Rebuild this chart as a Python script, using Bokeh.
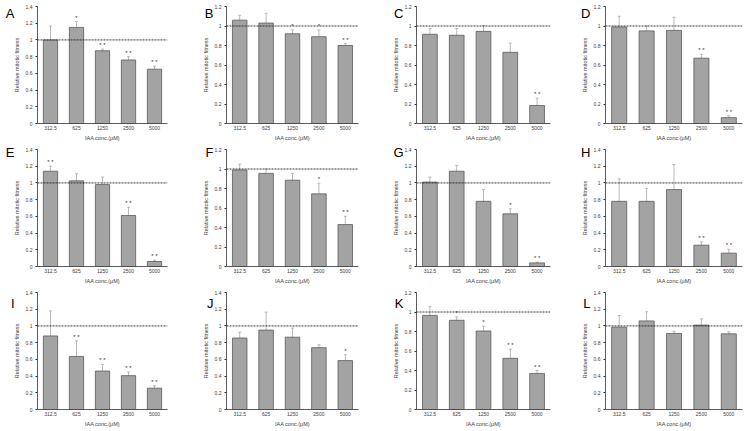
from bokeh.plotting import figure
from bokeh.models import (FactorRange, Range1d, Span, Whisker, TeeHead,
                          ColumnDataSource, LinearAxis, FixedTicker)
from bokeh.layouts import column, row
from bokeh.core.properties import value
from bokeh.embed import file_html
from bokeh.resources import INLINE

conc = ["312.5", "625", "1250", "2500", "5000"]
x_title = "IAA conc.(μM)"
y_title = "Relative mitotic fitness"

A_mean = [1.00, 1.15, 0.87, 0.76, 0.65]
A_err = [0.165, 0.07, 0.02, 0.04, 0.035]
A_sig = ["", "*", "* *", "* *", "* *"]

B_mean = [1.06, 1.03, 0.92, 0.89, 0.80]
B_err = [0.05, 0.10, 0.04, 0.07, 0.02]
B_sig = ["", "", "*", "*", "* *"]

C_mean = [0.915, 0.905, 0.945, 0.73, 0.185]
C_err = [0.06, 0.07, 0.06, 0.095, 0.075]
C_sig = ["", "", "", "", "* *"]

D_mean = [0.99, 0.95, 0.955, 0.67, 0.06]
D_err = [0.11, 0.05, 0.135, 0.04, 0.02]
D_sig = ["", "", "", "* *", "* *"]

E_mean = [1.14, 1.025, 0.98, 0.61, 0.06]
E_err = [0.06, 0.085, 0.09, 0.10, 0.015]
E_sig = ["* *", "", "", "* *", "* *"]

F_mean = [0.99, 0.955, 0.885, 0.745, 0.43]
F_err = [0.06, 0.045, 0.07, 0.11, 0.085]
F_sig = ["", "", "", "*", "* *"]

G_mean = [1.01, 1.14, 0.78, 0.63, 0.043]
G_err = [0.06, 0.07, 0.14, 0.06, 0.008]
G_sig = ["", "", "", "*", "* *"]

H_mean = [0.78, 0.78, 0.92, 0.255, 0.16]
H_err = [0.27, 0.155, 0.30, 0.04, 0.045]
H_sig = ["", "", "", "* *", "* *"]

I_mean = [0.88, 0.635, 0.46, 0.405, 0.255]
I_err = [0.30, 0.185, 0.08, 0.045, 0.03]
I_sig = ["", "* *", "* *", "* *", "* *"]

J_mean = [0.855, 0.95, 0.865, 0.74, 0.585]
J_err = [0.07, 0.215, 0.11, 0.035, 0.07]
J_sig = ["", "", "", "", "*"]

K_mean = [0.965, 0.915, 0.805, 0.525, 0.37]
K_err = [0.09, 0.035, 0.05, 0.095, 0.03]
K_sig = ["", "*", "*", "* *", "* *"]

L_mean = [0.985, 1.06, 0.91, 1.01, 0.905]
L_err = [0.14, 0.11, 0.025, 0.075, 0.025]
L_sig = ["", "", "", "", ""]

y_max = {"A": 1.4, "B": 1.2, "C": 1.2, "D": 1.2,
         "E": 1.4, "F": 1.2, "G": 1.4, "H": 1.4,
         "I": 1.4, "J": 1.4, "K": 1.2, "L": 1.4}

panels = [
    [("A", A_mean, A_err, A_sig), ("B", B_mean, B_err, B_sig),
     ("C", C_mean, C_err, C_sig), ("D", D_mean, D_err, D_sig)],
    [("E", E_mean, E_err, E_sig), ("F", F_mean, F_err, F_sig),
     ("G", G_mean, G_err, G_sig), ("H", H_mean, H_err, H_sig)],
    [("I", I_mean, I_err, I_sig), ("J", J_mean, J_err, J_sig),
     ("K", K_mean, K_err, K_sig), ("L", L_mean, L_err, L_sig)],
]

# layout (pixels)
COL_W = [188, 187, 185, 184]
COL_L = [37, 38, 41, 45]
PLOT_W = [130, 132, 134, 137]
ROW_H = [143, 143, 143]
TOP_B = 6
BOT_B = 17
LETTER_STANDOFF = [-4, -14, -14, -12]  # horizontal placement of the panel letter
LETTER_DY = [7.5, 3.0, 11.0]           # letter centre below the plot top (px)

FONT = "Liberation Sans"
BAR_FILL = "#a3a3a3"
BAR_LINE = "#5a5a5a"
ERR_COL = "#a8a8a8"


def make_panel(letter, mean, err, sig, ci, ri):
    ymax = y_max[letter]
    w = COL_W[ci]
    lb = COL_L[ci]
    rb = max(w - lb - PLOT_W[ci], 0)
    p = figure(x_range=FactorRange(factors=conc), y_range=Range1d(0, ymax),
               width=w, height=ROW_H[ri], output_backend="svg",
               toolbar_location=None, min_border_left=lb, min_border_right=rb,
               min_border_top=TOP_B, min_border_bottom=BOT_B)
    p.outline_line_color = None
    p.xgrid.visible = False
    p.ygrid.visible = False

    upper = [m + e for m, e in zip(mean, err)]
    lower = [m - e for m, e in zip(mean, err)]
    src = ColumnDataSource(dict(x=conc, top=mean, upper=upper, lower=lower, sig=sig))

    p.vbar(x="x", top="top", width=0.55, source=src, fill_color=BAR_FILL,
           line_color=BAR_LINE, line_width=0.8)
    wh = Whisker(source=src, base="x", upper="upper", lower="lower",
                 line_color=ERR_COL, line_width=0.8,
                 upper_head=TeeHead(size=3, line_color=ERR_COL, line_width=0.8),
                 lower_head=TeeHead(size=3, line_color=ERR_COL, line_width=0.8))
    p.add_layout(wh)
    p.add_layout(Span(location=1, dimension="width", line_color="#222222",
                      line_width=0.9, line_dash="2 1"))
    p.text(x="x", y="upper", text="sig", source=src, text_font=value(FONT),
           text_font_size="6px", text_color="#333333", text_align="center",
           text_baseline="bottom", y_offset=-1)

    # axes
    ticks = [round(0.2 * i, 1) for i in range(int(round(ymax / 0.2)) + 1)]
    p.yaxis.ticker = FixedTicker(ticks=ticks)
    p.yaxis.major_label_overrides = {t: ("%g" % t) for t in ticks}
    for ax in (p.xaxis, p.yaxis):
        ax.axis_line_color = "#333333"
        ax.axis_line_width = 0.8
        ax.major_label_text_font = FONT
        ax.major_label_text_font_size = "5px"
        ax.major_label_text_color = "#404040"
        ax.axis_label_text_font = FONT
        ax.axis_label_text_font_size = "5.5px"
        ax.axis_label_text_font_style = "normal"
        ax.axis_label_text_color = "#404040"
        ax.minor_tick_line_color = None
        ax.major_label_standoff = 3
        ax.axis_label_standoff = 3
    p.yaxis.major_tick_line_color = "#333333"
    p.yaxis.major_tick_out = 2
    p.yaxis.major_tick_in = 0
    p.xaxis.major_tick_out = 0
    p.xaxis.major_tick_in = 0
    p.xaxis.major_label_standoff = 2
    p.xaxis.axis_label_standoff = 2
    p.xaxis.axis_label = x_title
    p.yaxis.axis_label = y_title

    # panel letter, drawn as the single label of an outer, invisible left axis
    plot_h = ROW_H[ri] - TOP_B - BOT_B
    tv = round(ymax * (1 - LETTER_DY[ri] / plot_h), 3)
    lax = LinearAxis(ticker=FixedTicker(ticks=[tv]),
                     major_label_overrides={tv: letter},
                     axis_line_color=None, major_tick_line_color=None,
                     minor_tick_line_color=None,
                     major_tick_out=0, major_tick_in=0,
                     major_label_text_font=FONT,
                     major_label_text_font_size="13px",
                     major_label_text_color="black",
                     major_label_standoff=LETTER_STANDOFF[ci])
    p.add_layout(lax, "left")
    return p


rows = []
for ri, rp in enumerate(panels):
    figs = [make_panel(letter, m, e, s, ci, ri) for ci, (letter, m, e, s) in enumerate(rp)]
    rows.append(row(*figs))
layout = column(*rows)

open("out.html", "w").write(file_html(layout, INLINE))
